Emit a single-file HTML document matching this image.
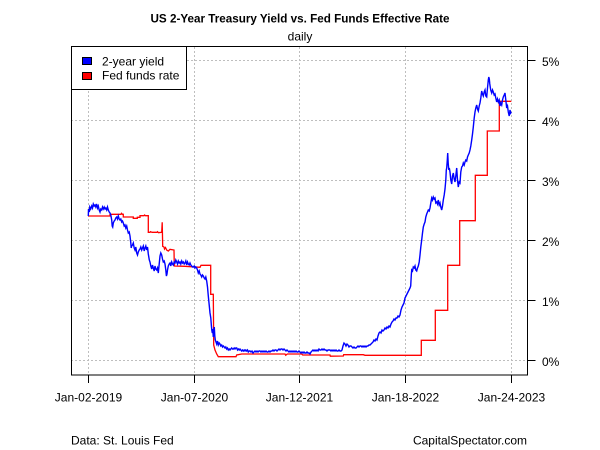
<!DOCTYPE html>
<html><head><meta charset="utf-8"><style>
html,body{margin:0;padding:0;background:#fff;}
svg{display:block;}
text{font-family:"Liberation Sans",Arial,sans-serif;fill:#000;}
</style></head><body>
<svg width="600" height="450" viewBox="0 0 600 450" xmlns="http://www.w3.org/2000/svg">
<rect x="0" y="0" width="600" height="450" fill="#fff"/>
<text x="300" y="22.5" font-size="12" font-weight="bold" text-anchor="middle" textLength="299" lengthAdjust="spacingAndGlyphs">US 2-Year Treasury Yield vs. Fed Funds Effective Rate</text>
<text x="300" y="40.5" font-size="12" text-anchor="middle">daily</text>
<g stroke="#bebebe" stroke-width="1" stroke-dasharray="2,2" fill="none">
<line x1="71" y1="60.5" x2="527" y2="60.5"/>
<line x1="71" y1="120.5" x2="527" y2="120.5"/>
<line x1="71" y1="180.5" x2="527" y2="180.5"/>
<line x1="71" y1="240.5" x2="527" y2="240.5"/>
<line x1="71" y1="300.5" x2="527" y2="300.5"/>
<line x1="71" y1="360.5" x2="527" y2="360.5"/>
<line x1="88.5" y1="47" x2="88.5" y2="375"/>
<line x1="194.5" y1="47" x2="194.5" y2="375"/>
<line x1="299.5" y1="47" x2="299.5" y2="375"/>
<line x1="405.5" y1="47" x2="405.5" y2="375"/>
<line x1="511.5" y1="47" x2="511.5" y2="375"/>
</g>
<polyline fill="none" stroke="#ff0000" stroke-width="1.3" points="88.3,216 110,216 110,214.3 121,214.3 121.5,213.3 122.5,214.3 123.3,214.3 123.3,217 133.3,217 133.3,218.3 137.3,218.3 137.3,217.3 140,217.3 140,215.7 144,215.7 144.5,215 145.5,215.7 148.3,215.7 148.3,232.3 150,232.3 150.5,231.7 152,232.3 157,232.3 157.5,231.7 158.5,232.7 161.7,232.3 162.2,222.3 162.7,246.3 164,247 164.5,249 165.5,247.5 166.7,250 168.3,251 170,249.3 174,250 174.3,266 185,266.3 200,267.3 201,265.3 210.7,265.3 210.7,294.3 213.3,294.3 213.7,345 215,350 216.7,354 218.3,356.7 236,356.7 236.7,355 241.7,354 285,354 285.7,355.3 287.3,354 301.7,354 302.7,355 330,355 330.3,356.2 343.3,356 343.7,354.7 363.3,354.7 365,355.3 421.3,355.3 421.3,340.3 435.3,340.3 435.3,310.3 447.7,310.3 447.7,265.3 459.7,265.3 459.7,220.7 475.3,220.7 475.3,175.3 487.3,175.3 487.3,131 499.3,131 499.3,101.3 511.3,101.3"/>
<polyline fill="none" stroke="#0000ff" stroke-width="1.4" stroke-linejoin="miter" points="88.3,216 88.5,209 89.3,212 89.8,207 90.7,209 91.7,206 92.5,208 93.3,204 94.2,206 95,205 95.8,207 96.7,204 97.5,208 98.3,206 99.2,210 100,212 100.8,209 101.7,210 102.5,207 103.3,209 104.2,207 105,209 105.8,208 106.7,210 107.5,207 108.3,210 109.2,212 110,213 110.8,215 111.7,220 112.2,226 112.7,227 113.3,223 114.2,221 115,220 115.8,218 116.7,217 117.5,219 118.3,216 119.2,219 120,220 120.8,219 121.7,222 122.5,221 123.3,223 124.2,226 125,225 125.8,228 126.7,226 127.5,230 128.3,233 129.2,232 130,236 130.8,243 131.2,248 131.7,246 132.5,245 133.3,243 134.2,248 135,250 135.8,247 136.7,253 137.5,255 138.3,252 139.2,250 140,249 140.8,247 141.7,250 142.5,248 143.3,246 144.2,251 145,248 145.8,246 146.7,250 147.5,247 148.3,254 149.3,260 150,262 150.8,266 151.7,269 152.5,265 153.3,268 154.2,271 155,266 155.8,269 156.7,270 157.5,268 158.3,273 159.2,264 160,256 160.8,253 161.7,255 162.5,259 163.3,262 164.2,261 165,264 165.8,270 166.4,276 167,274 167.5,270 168.3,266 169.2,264 170,263 170.8,266 171.7,262 172.5,264 173.3,265 174.2,262 175,263 175.8,260 176.7,262 177.5,264 178.3,261 179.2,263 180,262 180.8,264 181.7,261 182.5,263 183.3,262 184.2,264 185,263 185.8,261 186.7,265 187.5,262 188.3,264 189.2,265 190,263 190.8,265 191.7,266 192.5,267 193.3,267 194.2,266 195,268 195.8,267 196.7,268 197.5,270 198.3,273 199.2,271 200,274 200.8,275 201.7,277 202.5,275 203.3,276 204.2,278 205,279 205.8,277 206.7,281 207.5,287 208.3,296 209.2,305 210,313 210.8,318 211.4,326 211.8,330 212.3,333 212.7,329 213.3,337 213.8,330 214.3,327 214.8,336 215.3,340 216,342 216.7,344 217.5,341 218.3,345 219.2,343 220,344 220.8,346 221.7,345 222.5,347 223.3,346 224.2,347 225,348 225.8,347 226.7,349 227.5,348 228.3,350 229.2,349 230,350 230.8,349 231.7,348 232.5,349 233.3,349 234.2,348 235,349 235.8,348 236.7,348 237.5,350 238.3,349 239.2,350 240,349 240.8,350 241.7,351 242.5,350 243.3,351 244.2,350 245,351 245.8,350 246.7,351 247.5,350 248.3,352 249.2,351 250,351 251,352 252,351 253,353 254,352 255,351 256,352 257,351 258,352 259,351 260,351 261,352 262,351 263,352 264,351 265,352 266,351 267,352 268,352 269,351 270,352 271,351 272,351 273,350 274,351 275,350 276,350 277,351 278,350 279,349 280,350 281,349 282,349 283,350 284,349 285,350 286,351 287,350 288,351 289,352 290,351 291,352 292,351 293,352 294,351 295,352 296,351 297,352 298,352 299,351 300,352 301,353 302,352 303,353 304,352 305,353 306,353 307,352 308,353 309,353 310,354 311,352 312,351 313,350 314,351 315,350 316,351 317,350 318,351 319,349 320,350 321,350 322,349 323,350 324,349 325,350 326,350 327,351 328,350 329,350 330,350 331,351 332,350 333,351 334,350 335,351 336,350 337,351 338,351 339,350 340,351 341,351 342,350 343,346 344,343 345,344 346,346 347,344 348,345 349,347 350,346 351,346 352,347 353,348 354,347 355,348 356,348 357,347 358,346 359,347 360,346 361,346 362,347 363,346 364,347 365,346 366,347 367,346 368,346 369,345 370,345 371,344 372,343 373,342 374,340 375,341 376,339 377,340 378,336 379,333 380,332 381,333 382,330 383,331 384,330 385,328 386,329 387,327 388,328 389,326 390,327 391,324 392,322 393,321 394,319 395,320 396,318 397,318 398,316 399,317 400,315 401,310 402,307 403,305 404,303 405,298 406,296 407,294 408,292 409,290 410,288 410.7,286 411.3,275 411.7,270 412.5,271 413.3,267 414.2,268 415,266 415.8,270 416.7,271 417.5,268 418.3,266 419.2,262 420,255 420.8,247 421.7,240 422.5,233 423.3,227 424.2,224 425,222 425.8,217 426.7,214 427.5,212 428.3,210 429.2,211 430,208 430.8,203 431.7,198 432.5,200 433.3,197 434.2,199 435,198 435.8,203 436.7,202 437.5,204 438.3,200 439.2,205 440,203 440.8,207 441.7,210 442.5,206 443.3,200 444.2,195 445,189 445.8,180 446.3,170 446.7,168 447.3,160 447.7,153 448.2,163 448.8,170 449.3,168 450,172 450.8,180 451.7,184 452.5,176 453.3,173 454.2,179 455,182 455.8,176 456.7,168 457.5,180 458.3,187 459.2,182 460,183 460.8,172 461.7,167 462.5,166 463.3,163 464.2,165 465,162 465.8,160 466.7,161 467.5,157 468.3,155 469.2,153 470,150 470.8,146 471.7,140 472.5,134 473.3,127 474.2,118 475,112 475.8,108 476.7,105 477.5,109 478.3,111 479.2,106 480,103 480.8,98 481.7,91 482.5,94 483.3,96 484.2,92 485,90 485.8,96 486.7,97 487.5,88 488.3,80 488.8,77 489.3,79 489.8,84 490.7,90 491.7,93 492.5,90 493.3,92 494.2,95 495,94 495.8,98 496.7,102 497.5,99 498.3,102 499.2,100 500,106 500.8,103 501.7,105 502.5,100 503.3,97 504.2,95 505,93 505.8,100 506.7,108 507.5,106 508.3,112 509.2,116 510,110 510.7,113 511.3,112"/>
<rect x="71.5" y="46.5" width="456" height="328.5" fill="none" stroke="#000" stroke-width="1"/>
<g stroke="#000" stroke-width="1">
<line x1="88.5" y1="375" x2="88.5" y2="383"/>
<line x1="194.5" y1="375" x2="194.5" y2="383"/>
<line x1="299.5" y1="375" x2="299.5" y2="383"/>
<line x1="405.5" y1="375" x2="405.5" y2="383"/>
<line x1="511.5" y1="375" x2="511.5" y2="383"/>
<line x1="527" y1="60.5" x2="535.5" y2="60.5"/>
<line x1="527" y1="120.5" x2="535.5" y2="120.5"/>
<line x1="527" y1="180.5" x2="535.5" y2="180.5"/>
<line x1="527" y1="240.5" x2="535.5" y2="240.5"/>
<line x1="527" y1="300.5" x2="535.5" y2="300.5"/>
<line x1="527" y1="360.5" x2="535.5" y2="360.5"/>
</g>
<g font-size="12">
<text x="542" y="66">5%</text>
<text x="542" y="126">4%</text>
<text x="542" y="186">3%</text>
<text x="542" y="246">2%</text>
<text x="542" y="306">1%</text>
<text x="542" y="366">0%</text>
<text x="88.5" y="401.5" text-anchor="middle">Jan-02-2019</text>
<text x="194.5" y="401.5" text-anchor="middle">Jan-07-2020</text>
<text x="299.5" y="401.5" text-anchor="middle">Jan-12-2021</text>
<text x="405.5" y="401.5" text-anchor="middle">Jan-18-2022</text>
<text x="511.5" y="401.5" text-anchor="middle">Jan-24-2023</text>
<text x="71" y="444.5">Data: St. Louis Fed</text>
<text x="527" y="444.5" text-anchor="end">CapitalSpectator.com</text>
</g>
<rect x="71.5" y="46.5" width="115" height="43" fill="#fff" stroke="#000" stroke-width="1"/>
<rect x="82.5" y="57.5" width="9" height="7" fill="#0000ff" stroke="#000" stroke-width="1"/>
<rect x="82.5" y="72.5" width="9" height="7" fill="#ff0000" stroke="#000" stroke-width="1"/>
<text x="102" y="65.5" font-size="12">2-year yield</text>
<text x="102" y="79.5" font-size="12">Fed funds rate</text>
</svg>
</body></html>
